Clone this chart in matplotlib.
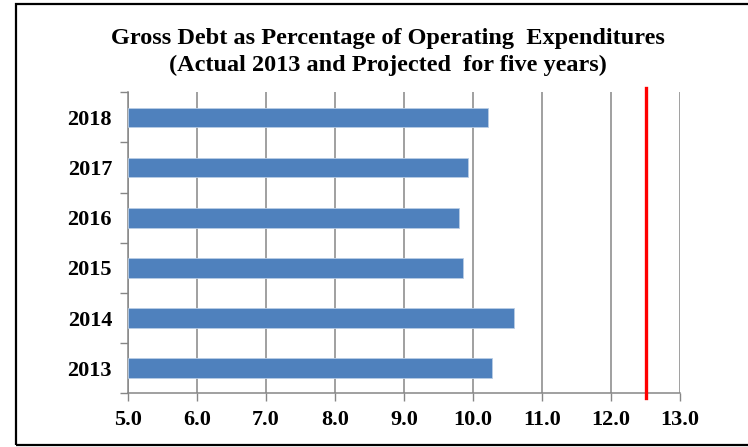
import matplotlib.pyplot as plt
from matplotlib.patches import Rectangle

years = ['2013', '2014', '2015', '2016', '2017', '2018']
debt_pct = [10.28, 10.60, 9.85, 9.80, 9.93, 10.22]
x_ticks = [5.0, 6.0, 7.0, 8.0, 9.0, 10.0, 11.0, 12.0, 13.0]
limit_value = 12.5

title = ("Gross Debt as Percentage of Operating  Expenditures\n"
         "(Actual 2013 and Projected  for five years)")

plt.rcParams['font.family'] = ['Liberation Serif', 'DejaVu Serif']
plt.rcParams['font.weight'] = 'bold'

fig = plt.figure(figsize=(7.48, 4.47), dpi=100)
ax = fig.add_axes([0.1711, 0.1201, 0.738, 0.6734])

pos = list(range(len(years)))
ax.barh(pos, [v - x_ticks[0] for v in debt_pct], left=x_ticks[0], height=0.39,
        color='#4F81BD', edgecolor='#B9CDE5', linewidth=0.6, zorder=3)

ax.set_xlim(x_ticks[0], x_ticks[-1])
ax.set_ylim(-0.5, len(years) - 0.5)
ax.set_xticks(x_ticks)
ax.set_xticklabels([f"{t:.1f}" for t in x_ticks], fontsize=16, fontweight='bold')

# category boundaries get tick marks, labels sit in between
ax.set_yticks([p - 0.5 for p in pos] + [pos[-1] + 0.5])
ax.set_yticklabels([])
ax.set_yticks(pos, minor=True)
ax.set_yticklabels(years, minor=True, fontsize=16, fontweight='bold')
ax.tick_params(axis='y', which='minor', length=0, pad=11.5)
ax.tick_params(axis='y', which='major', length=6, color='#868686', width=1)
ax.tick_params(axis='x', length=6, color='#868686', width=1, pad=6)

ax.grid(axis='x', color='#868686', linewidth=1.1, zorder=0)
for s in ['top', 'right']:
    ax.spines[s].set_visible(False)
for s in ['left', 'bottom']:
    ax.spines[s].set_color('#868686')
    ax.spines[s].set_linewidth(1.1)

ax.axvline(limit_value, ymin=-0.016, ymax=1.013, color='#FF0000', linewidth=2.4,
           clip_on=False, zorder=4)

fig.text(388 / 748, 1 - 52 / 447, title, ha='center', va='center',
         fontsize=17.5, fontweight='bold', linespacing=1.4)

fig.patches.append(Rectangle((16 / 748, 2 / 447), 1.2, 441 / 447,
                             transform=fig.transFigure, fill=False,
                             edgecolor='black', linewidth=1.6))

fig.savefig('out.png', dpi=100)
